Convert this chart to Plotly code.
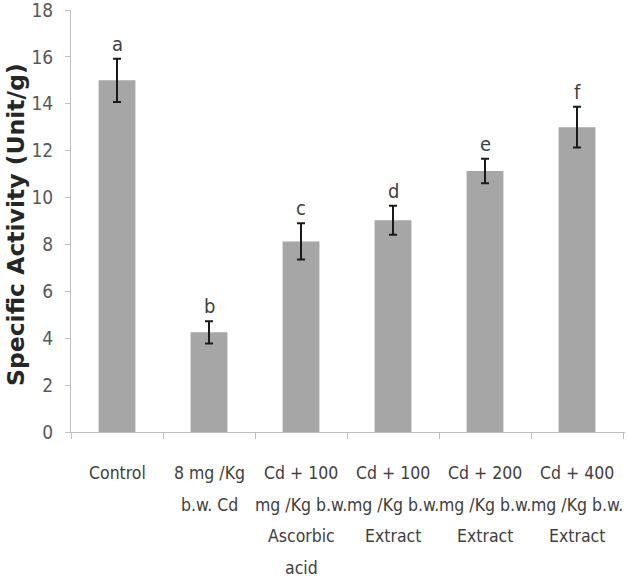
import plotly.graph_objects as go

categories = ["Control", "8 mg /Kg b.w. Cd", "Cd + 100 mg /Kg b.w. Ascorbic acid",
              "Cd + 100 mg /Kg b.w. Extract", "Cd + 200 mg /Kg b.w. Extract",
              "Cd + 400 mg /Kg b.w. Extract"]
label_lines = [["Control"], ["8 mg /Kg", "b.w. Cd"], ["Cd + 100", "mg /Kg b.w.", "Ascorbic", "acid"],
               ["Cd + 100", "mg /Kg b.w.", "Extract"], ["Cd + 200", "mg /Kg b.w.", "Extract"],
               ["Cd + 400", "mg /Kg b.w.", "Extract"]]
values = [15.0, 4.25, 8.13, 9.03, 11.13, 13.0]
errors = [0.92, 0.47, 0.77, 0.62, 0.52, 0.87]
letters = ["a", "b", "c", "d", "e", "f"]
y_ticks = [0, 2, 4, 6, 8, 10, 12, 14, 16, 18]
y_title = "Specific Activity (Unit/g)"

FONT = "DejaVu Sans Condensed, Liberation Sans Narrow, Arial Narrow, sans-serif"

fig = go.Figure()
fig.add_trace(go.Bar(
    x=categories, y=values, width=0.4,
    marker=dict(color="#a6a6a6", line=dict(width=0)),
    error_y=dict(type="data", array=errors, visible=True, color="#1a1a1a", thickness=2, width=4),
    hoverinfo="skip",
))

for c, v, e, l in zip(categories, values, errors, letters):
    fig.add_annotation(x=c, y=v + e, text=l, showarrow=False, yanchor="bottom", yshift=1,
                       font=dict(family=FONT, size=20, color="#404040"))

# multi-line category labels
for c, lines in zip(categories, label_lines):
    for i, line in enumerate(lines):
        fig.add_annotation(x=c, xref="x", y=0, yref="paper", text=line, showarrow=False,
                           yanchor="middle", yshift=-41 - 31.5 * i,
                           font=dict(family=FONT, size=17.5, color="#404040"))

# y-axis title
fig.add_annotation(x=0, xref="paper", y=0.5, yref="paper", text="<b>" + y_title + "</b>",
                   textangle=-90, showarrow=False, xanchor="center", yanchor="middle",
                   xshift=-55, yshift=-4,
                   font=dict(family="DejaVu Sans", size=23.5, color="#262626"))

fig.update_layout(
    width=627, height=580,
    margin=dict(l=71, r=2, t=10, b=148),
    paper_bgcolor="white", plot_bgcolor="white",
    showlegend=False,
)
fig.update_yaxes(
    range=[0, 18], tickvals=y_ticks, showgrid=False, automargin=False,
    showline=True, linecolor="#bfbfbf", linewidth=1,
    ticks="outside", ticklen=5, tickcolor="#bfbfbf", ticklabelstandoff=8,
    ticklabeloverflow="allow",
    tickfont=dict(family=FONT, size=19, color="#595959"),
    zeroline=False,
)
fig.update_xaxes(
    showline=True, linecolor="#bfbfbf", linewidth=1, automargin=False,
    ticks="outside", ticklen=6, tickcolor="#bfbfbf", tickson="boundaries",
    showticklabels=False,
)

fig.write_html("out.html", config={"displayModeBar": False},
               post_script="document.body.style.margin='0';document.body.style.padding='0';")
